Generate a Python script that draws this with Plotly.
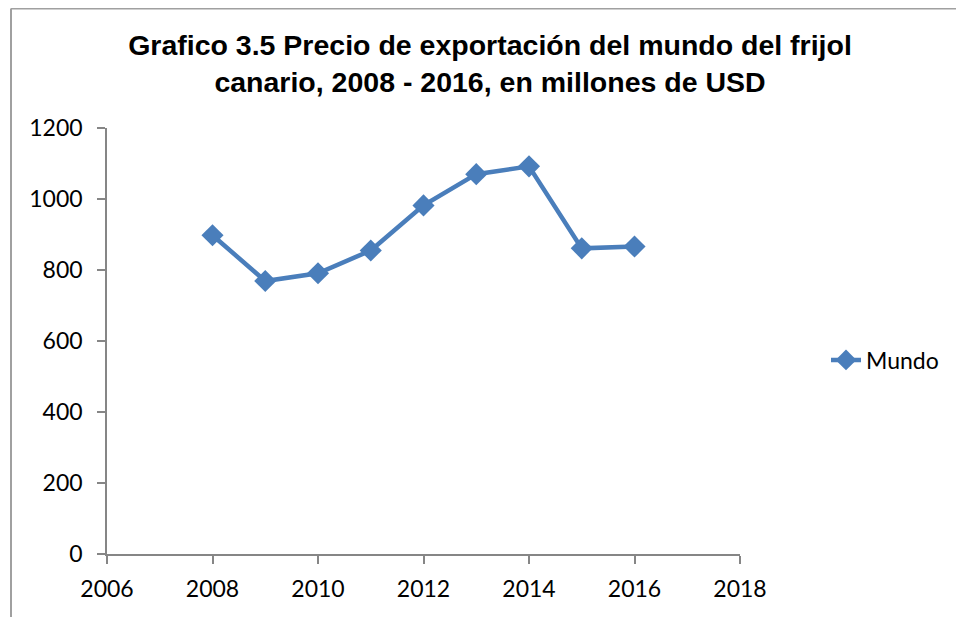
import plotly.graph_objects as go

years = [2008, 2009, 2010, 2011, 2012, 2013, 2014, 2015, 2016]
mundo = [898, 769, 791, 855, 982, 1070, 1092, 861, 866]
series_name = "Mundo"
title_text = "<b>Grafico 3.5 Precio de exportación del mundo del frijol<br>canario, 2008 - 2016, en millones de USD</b>"

# page body has an 8px margin, so figure coordinates = window coordinates - 8
W, H = 956, 609
L, R, T, B = 99, 732, 120, 546

fig = go.Figure()
fig.add_trace(go.Scatter(
    x=years, y=mundo, name=series_name, mode="lines+markers",
    line=dict(color="#4a7ebb", width=4.5),
    marker=dict(symbol="diamond", size=17, color="#4a7ebb"),
))

def px_x(p):
    return (p - L) / (R - L)

def px_y(p):
    return (B - p) / (B - T)

axis_color = "#868686"
tick_font = dict(family="Lato, Open Sans", size=23, color="black")
fig.update_layout(
    width=W, height=H,
    margin=dict(l=L, r=W - R, t=T, b=H - B, pad=0),
    paper_bgcolor="white", plot_bgcolor="white",
    title=dict(text=title_text, x=482 / W, xanchor="center",
               y=1 - 47 / H, yanchor="middle",
               font=dict(family="Liberation Sans, Arial", size=28.5, color="black")),
    xaxis=dict(range=[2006, 2018], tickvals=[2006, 2008, 2010, 2012, 2014, 2016, 2018],
               showgrid=False, zeroline=False, showline=True, linecolor=axis_color, linewidth=1.5,
               ticks="outside", ticklen=8, tickcolor=axis_color, tickwidth=1.5,
               ticklabelstandoff=6, tickfont=tick_font),
    yaxis=dict(range=[0, 1200], tickvals=[0, 200, 400, 600, 800, 1000, 1200],
               showgrid=False, zeroline=False, showline=True, linecolor=axis_color, linewidth=1.5,
               ticks="outside", ticklen=8, tickcolor=axis_color, tickwidth=1.5,
               ticklabelstandoff=10, tickfont=tick_font),
    showlegend=True,
    legend=dict(x=px_x(818), y=px_y(352), xanchor="left", yanchor="middle",
                font=tick_font, bgcolor="rgba(0,0,0,0)"),
    shapes=[
        dict(type="line", xref="paper", yref="paper", x0=px_x(3), x1=px_x(3),
             y0=px_y(0.5), y1=px_y(700), line=dict(color="#a0a0a0", width=2)),
        dict(type="line", xref="paper", yref="paper", x0=px_x(3), x1=px_x(1000),
             y0=px_y(0.5), y1=px_y(0.5), line=dict(color="#a0a0a0", width=2)),
    ],
)
fig.write_html("out.html")
